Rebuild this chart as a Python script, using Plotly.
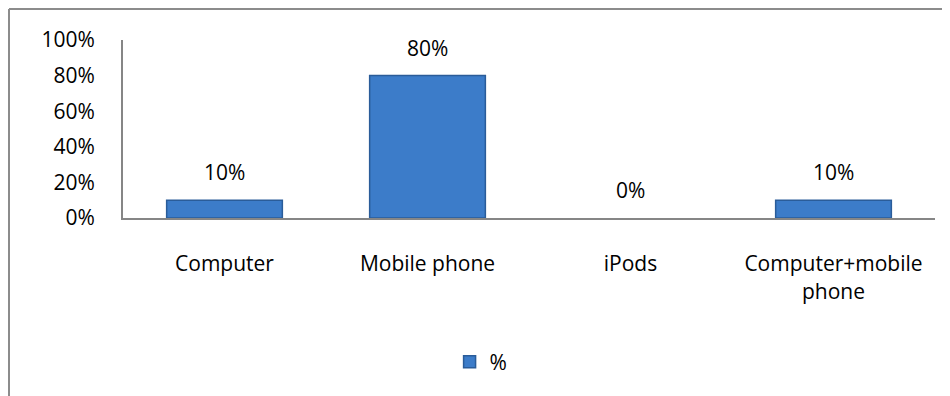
import plotly.graph_objects as go

# data
categories = ["Computer", "Mobile phone", "iPods", "Computer+mobile<br>phone"]
values = [0.10, 0.80, 0.0, 0.10]
series_name = "%"

FONT = "Open Sans"
TXT = 21

fig = go.Figure()
fig.add_trace(go.Bar(
    x=categories, y=values, name=series_name,
    marker=dict(color="#3C7CC9",
                line=dict(color="#2A5C99", width=[1.5 if v > 0 else 0 for v in values])),
    width=0.57,
    showlegend=True,
))

# value labels above the bars
for c, v in zip(categories, values):
    fig.add_annotation(x=c, y=v, text=f"{v:.0%}", showarrow=False,
                       yanchor="bottom", yshift=12,
                       font=dict(family=FONT, size=TXT, color="black"))

# page has an 8px body margin, so everything is shifted by that
L, R, T, B = 115, 23, 32, 186
pw, ph = 950 - L - R, 396 - T - B
bx = (1 - L) / pw
by = 1 + (T - 1) / ph
# outer chart border (left/top visible in the reference)
fig.add_shape(type="line", xref="paper", yref="paper", x0=bx, x1=bx, y0=by, y1=-B / ph - 0.1,
              line=dict(color="#8C8C8C", width=2))
fig.add_shape(type="line", xref="paper", yref="paper", x0=bx, x1=1 + R / pw + 0.1, y0=by, y1=by,
              line=dict(color="#8C8C8C", width=2))

fig.update_layout(
    width=950, height=396,
    margin=dict(l=L, r=R, t=T, b=B),
    paper_bgcolor="white", plot_bgcolor="white",
    font=dict(family=FONT, size=TXT, color="black"),
    showlegend=True,
    legend=dict(orientation="h", x=0.441, xanchor="center", y=-0.81, yanchor="middle",
                font=dict(family=FONT, size=TXT)),
    bargap=0.43,
)
fig.update_xaxes(showline=True, linecolor="#868686", linewidth=2, showgrid=False,
                 ticks="", ticklabelstandoff=26, tickfont=dict(size=TXT, lineposition="none"))
fig.update_yaxes(range=[0, 1], dtick=0.2, tickformat=".0%", showline=True,
                 linecolor="#868686", linewidth=2, showgrid=False, zeroline=False,
                 ticks="", ticklabelstandoff=22, tickfont=dict(size=TXT))

fig.write_html("out.html")
